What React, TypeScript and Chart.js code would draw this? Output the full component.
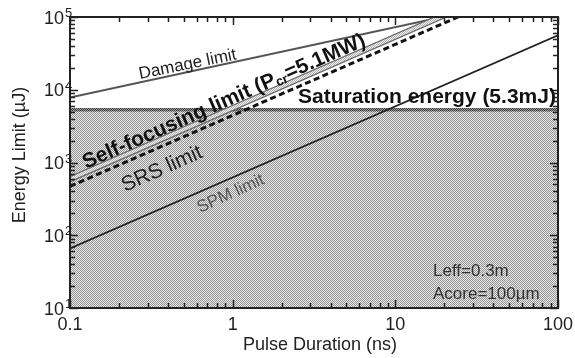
import React, { useEffect, useRef } from 'react';
import { Chart, registerables } from 'chart.js';

Chart.register(...registerables);

// ---- data ----
const pulseNs = [0.1, 100];
const damageUJ = [7800, 221000];
const selfFocusUJ = [590, 510000];
const srsUJ = [470, 398000];
const spmUJ = [66, 56000];
const saturationUJ = [5300, 5300];

const xMajorTicks = [0.1, 1, 10, 100];
const xTickLabels = ['0.1', '1', '10', '100'];
const yMajorTicks = [10, 100, 1000, 10000, 100000];
const yTickExponents = ['1', '2', '3', '4', '5'];

const xTitle = 'Pulse Duration (ns)';
const yTitle = 'Energy Limit (\u00B5J)';

const FONT = '"Liberation Sans", Arial, Helvetica, sans-serif';

function makePattern(dark: string, light: string) {
  const pc = document.createElement('canvas');
  pc.width = 2;
  pc.height = 2;
  const c = pc.getContext('2d')!;
  c.fillStyle = light;
  c.fillRect(0, 0, 2, 2);
  c.fillStyle = dark;
  c.fillRect(0, 0, 1, 1);
  c.fillRect(1, 1, 1, 1);
  return c.createPattern(pc, 'repeat') as CanvasPattern;
}

const toXY = (ys: number[]) => pulseNs.map((x, i) => ({ x, y: ys[i] }));

const decorPlugin = {
  id: 'decor',
  afterDraw(chart: any) {
    const { ctx, chartArea: a, scales } = chart;
    const xs = scales.x;
    const ys = scales.y;
    ctx.save();

    // tick marks (inward, all four sides)
    ctx.strokeStyle = '#222';
    ctx.lineWidth = 1.5;
    ctx.beginPath();
    for (let d = -1; d <= 2; d++) {
      for (let m = 1; m <= 9; m++) {
        const v = m * Math.pow(10, d);
        if (v < 0.1 - 1e-9 || v > 100 + 1e-9) continue;
        const len = m === 1 ? 8 : 5;
        const px = Math.round(xs.getPixelForValue(v)) + 0.5;
        ctx.moveTo(px, a.bottom);
        ctx.lineTo(px, a.bottom - len);
        ctx.moveTo(px, a.top);
        ctx.lineTo(px, a.top + len);
      }
    }
    for (let d = 1; d <= 5; d++) {
      for (let m = 1; m <= 9; m++) {
        const v = m * Math.pow(10, d);
        if (v > 1e5 + 1e-6) continue;
        const len = m === 1 ? 8 : 5;
        const py = Math.round(ys.getPixelForValue(v)) + 0.5;
        ctx.moveTo(a.left, py);
        ctx.lineTo(a.left + len, py);
        ctx.moveTo(a.right, py);
        ctx.lineTo(a.right - len, py);
      }
    }
    ctx.stroke();

    // frame
    ctx.lineWidth = 2;
    ctx.strokeRect(a.left, a.top, a.right - a.left, a.bottom - a.top);

    // x tick labels
    ctx.fillStyle = '#222';
    ctx.font = `18px ${FONT}`;
    ctx.textAlign = 'center';
    ctx.textBaseline = 'alphabetic';
    xMajorTicks.forEach((v, i) => {
      ctx.fillText(xTickLabels[i], xs.getPixelForValue(v), a.bottom + 22);
    });

    // y tick labels 10^n
    yMajorTicks.forEach((v, i) => {
      const py = ys.getPixelForValue(v);
      ctx.font = `18px ${FONT}`;
      ctx.textAlign = 'right';
      ctx.fillText('10', a.left - 6, py + 6.5);
      ctx.font = `13px ${FONT}`;
      ctx.textAlign = 'left';
      ctx.fillText(yTickExponents[i], a.left - 5, py);
    });

    // axis titles
    ctx.font = `18px ${FONT}`;
    ctx.textAlign = 'center';
    ctx.fillText(xTitle, 320, 350);
    ctx.save();
    ctx.translate(25, 155);
    ctx.rotate(-Math.PI / 2);
    ctx.fillText(yTitle, 0, 0);
    ctx.restore();

    // annotations
    const rotText = (
      parts: { t: string; font: string; dy?: number }[],
      x: number,
      y: number,
      deg: number,
      color: string
    ) => {
      ctx.save();
      ctx.translate(x, y);
      ctx.rotate((-deg * Math.PI) / 180);
      ctx.textAlign = 'left';
      ctx.fillStyle = color;
      let cx = 0;
      parts.forEach((p) => {
        ctx.font = p.font;
        ctx.fillText(p.t, cx, p.dy || 0);
        cx += ctx.measureText(p.t).width;
      });
      ctx.restore();
    };

    rotText([{ t: 'Damage limit', font: `17px ${FONT}` }], 140, 79, 11.5, '#222');
    rotText(
      [
        { t: 'Self-focusing limit (P', font: `bold 21px ${FONT}` },
        { t: 'cr', font: `bold 13px ${FONT}`, dy: 2 },
        { t: '=5.1MW)', font: `bold 21px ${FONT}` },
      ],
      86,
      169,
      23.8,
      '#111'
    );
    rotText([{ t: 'SRS limit', font: `21px ${FONT}` }], 125, 192, 24, '#222');
    rotText([{ t: 'SPM limit', font: `17px ${FONT}` }], 200, 213, 24.5, '#555');
    rotText([{ t: 'Saturation energy (5.3mJ)', font: `bold 21px ${FONT}` }], 298, 103, 0, '#111');
    rotText([{ t: 'Leff=0.3m', font: `17px ${FONT}` }], 433, 276, 0, '#333');
    rotText([{ t: 'Acore=100\u00B5m', font: `17px ${FONT}` }], 433, 299, 0, '#333');

    ctx.restore();
  },
};

export default function App() {
  const ref = useRef<HTMLCanvasElement | null>(null);

  useEffect(() => {
    document.body.style.margin = '0';
    document.body.style.overflow = 'hidden';
    const canvas = ref.current!;
    const areaPattern = makePattern('#959595', '#e8e8e8');
    const bandPattern = makePattern('#b4b4b4', '#f0f0f0');
    const satPattern = makePattern('#3c3c3c', '#9a9a9a');

    const chart = new Chart(canvas, {
      type: 'line',
      data: {
        datasets: [
          {
            label: 'Saturation energy',
            data: toXY(saturationUJ),
            borderColor: satPattern as any,
            borderWidth: 3.5,
            backgroundColor: areaPattern as any,
            fill: 'start',
            pointRadius: 0,
            order: 6,
          },
          {
            label: 'Damage limit',
            data: toXY(damageUJ),
            borderColor: '#555',
            borderWidth: 2,
            fill: false,
            pointRadius: 0,
            order: 4,
          },
          {
            label: 'SPM limit',
            data: toXY(spmUJ),
            borderColor: '#222',
            borderWidth: 1.8,
            fill: false,
            pointRadius: 0,
            order: 4,
          },
          {
            label: 'Self-focusing limit',
            data: toXY(selfFocusUJ),
            borderColor: '#666',
            borderWidth: 6,
            fill: false,
            pointRadius: 0,
            order: 3,
          },
          {
            label: 'Self-focusing limit (inner)',
            data: toXY(selfFocusUJ),
            borderColor: bandPattern as any,
            borderWidth: 3.6,
            fill: false,
            pointRadius: 0,
            order: 2,
          },
          {
            label: 'SRS limit',
            data: toXY(srsUJ),
            borderColor: '#111',
            borderWidth: 3,
            borderDash: [6, 3.5],
            fill: false,
            pointRadius: 0,
            order: 1,
          },
        ],
      },
      options: {
        animation: false,
        responsive: false,
        devicePixelRatio: 1,
        layout: { padding: { left: 70, top: 17, right: 17, bottom: 50 } },
        plugins: { legend: { display: false }, tooltip: { enabled: false } },
        scales: {
          x: { type: 'logarithmic', min: 0.1, max: 100, display: false },
          y: { type: 'logarithmic', min: 10, max: 100000, display: false },
        },
      },
      plugins: [decorPlugin],
    });
    return () => chart.destroy();
  }, []);

  return (
    <div style={{ width: 575, height: 358, background: '#fff' }}>
      <canvas ref={ref} width={575} height={358} style={{ display: 'block' }} />
    </div>
  );
}
